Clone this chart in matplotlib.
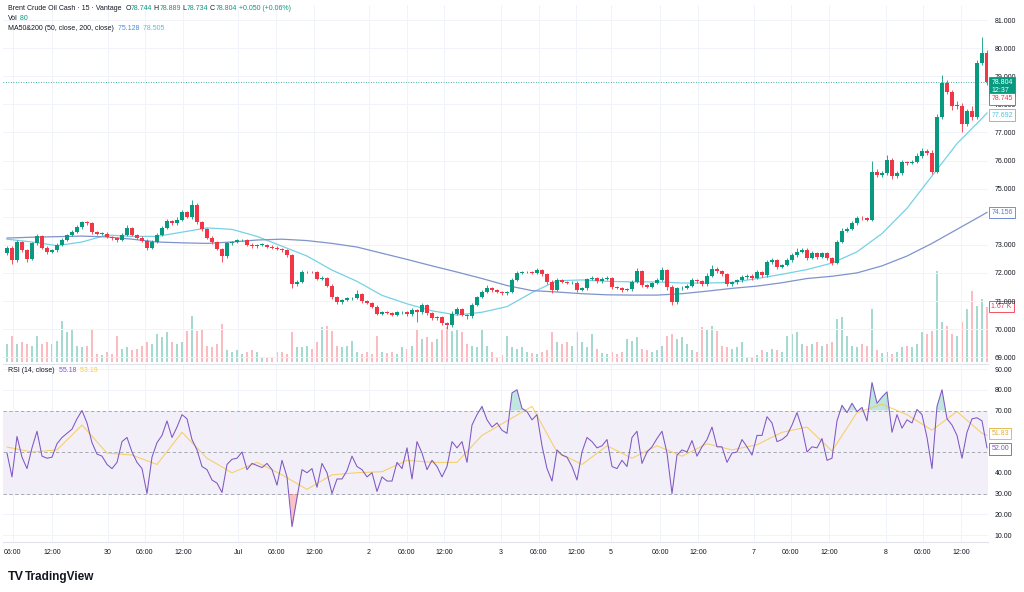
"""
Brent Crude Oil Cash, 15 min (Vantage): candles, MA50/MA200, volume and RSI panel
in a TradingView-like layout.
"""

import numpy as np
import matplotlib
matplotlib.use("Agg")
import matplotlib.pyplot as plt

plt.rcParams["font.family"] = ["Liberation Sans", "DejaVu Sans"]

COLORS = {
    "up": "#089981",
    "down": "#f23645",
    "text": "#131722",
    "grid": "#f0f3fa",
    "ma50": "#76d1e5",
    "ma200": "#7f93cc",
    "rsi": "#7e57c2",
    "rsi_ma": "#f5c84c",
    "band": "#787b86",
}

# ---- data (one entry per drawn bar) ----
FIRST_OPEN = 72.7
CLOSE = [
    # Jun 27 - Jun 30
    72.9, 72.45, 73.1, 72.8, 72.5, 73.05, 73.3, 72.9, 72.75, 72.8,
    73.0, 73.17, 73.35, 73.45, 73.63, 73.8, 73.77, 73.45, 73.4, 73.4,
    73.28, 73.23, 73.17, 73.35, 73.6, 73.35, 73.25, 73.15, 72.9, 73.1,
    73.35, 73.6, 73.85, 73.77, 73.9, 74.15, 74.0, 74.42, 73.8, 73.55,
    73.25, 73.1, 72.85, 72.6, 73.05, 73.1, 73.17, 73.17, 73.0,
    # Jul 1 - Jul 2
    72.95, 73.0, 73.0, 72.93, 72.9, 72.85, 72.8, 72.63, 71.6, 71.68,
    72.03, 72.03, 72.02, 71.8, 71.82, 71.55, 71.14, 70.96, 71.03, 71.1,
    71.1, 71.25, 71.0, 70.93, 70.8, 70.55, 70.6, 70.57, 70.5, 70.6,
    70.6, 70.52, 70.68, 70.6, 70.86, 70.57, 70.39, 70.43, 70.22, 70.14,
    70.55, 70.7, 70.5, 70.45, 70.86, 71.14, 71.32, 71.45, 71.39,
    # Jul 3 - Jul 6
    71.32, 71.28, 71.32, 71.75, 72.0, 72.03, 72.03, 72.0, 72.1, 71.95,
    71.68, 71.4, 71.75, 71.68, 71.64, 71.65, 71.4, 71.45, 71.78, 71.83,
    71.7, 71.8, 71.82, 71.5, 71.46, 71.39, 71.42, 71.68, 72.05, 71.57,
    71.5, 71.64, 71.75, 72.1, 71.5, 70.96, 71.45, 71.48, 71.55, 71.75,
    71.7, 71.6, 71.9, 72.15, 72.05, 71.95, 71.6, 71.66, 71.73, 71.85,
    # Jul 7 - Jul 8
    71.9, 71.82, 72.03, 71.92, 72.39, 72.46, 72.21, 72.28, 72.46, 72.63,
    72.75, 72.82, 72.53, 72.7, 72.57, 72.7, 72.53, 72.35, 73.1, 73.5,
    73.58, 73.78, 73.97, 73.95, 73.9, 75.6, 75.48, 75.55, 76.02, 75.45,
    75.55, 75.93, 75.91, 75.95, 76.15, 76.35, 76.28, 75.6, 77.55, 78.76,
    78.44, 77.95, 77.95, 77.3, 77.75, 77.55, 79.48, 79.83, 78.8,
]
# wick lengths above / below the body, in cents
WICK_UP = [
    6, 5, 8, 5, 4, 6, 8, 5, 4, 5, 5, 6, 5, 6, 8, 6, 5, 4, 5, 4,
    5, 4, 5, 8, 10, 5, 4, 5, 4, 6, 6, 8, 6, 5, 8, 10, 6, 18, 6, 5,
    4, 5, 4, 5, 6, 5, 5, 5, 4,
    5, 4, 5, 4, 5, 4, 5, 6, 5, 6, 8, 5, 5, 4, 6, 5, 4, 5, 5, 5,
    6, 14, 5, 4, 5, 5, 6, 4, 5, 5, 4, 5, 6, 5, 8, 5, 4, 5, 5, 5,
    10, 8, 5, 4, 6, 5, 8, 12, 5,
    5, 4, 5, 6, 8, 5, 5, 4, 6, 5, 4, 5, 6, 5, 4, 5, 5, 6, 5, 5,
    4, 5, 6, 5, 4, 5, 5, 6, 12, 5, 4, 5, 6, 10, 5, 6, 5, 4, 5, 6,
    5, 5, 8, 12, 5, 5, 4, 5, 5, 6,
    5, 5, 6, 5, 8, 6, 5, 5, 6, 8, 12, 6, 5, 8, 5, 6, 5, 5, 8, 10,
    6, 8, 6, 5, 5, 40, 10, 8, 18, 8, 6, 8, 5, 6, 10, 8, 6, 8, 10, 28,
    10, 8, 15, 8, 10, 20, 10, 55, 12,
]
WICK_DN = [
    5, 12, 6, 5, 10, 5, 5, 6, 8, 5, 5, 4, 5, 5, 4, 5, 5, 6, 5, 4,
    5, 5, 6, 4, 5, 5, 6, 5, 10, 5, 4, 5, 5, 6, 5, 5, 6, 8, 5, 6,
    5, 6, 5, 20, 6, 5, 4, 5, 6,
    5, 5, 4, 5, 4, 5, 6, 8, 15, 8, 5, 5, 4, 6, 5, 6, 8, 5, 5, 4,
    5, 4, 6, 5, 5, 6, 5, 4, 5, 5, 6, 5, 5, 35, 5, 6, 5, 5, 6, 14,
    5, 5, 5, 8, 4, 5, 5, 5, 6,
    5, 5, 6, 5, 5, 4, 5, 5, 5, 6, 8, 10, 5, 5, 4, 5, 8, 5, 5, 4,
    5, 5, 4, 6, 5, 6, 5, 5, 4, 8, 5, 5, 4, 5, 10, 12, 5, 5, 4, 5,
    5, 6, 5, 5, 5, 6, 8, 5, 4, 5,
    6, 8, 5, 6, 5, 6, 8, 5, 5, 6, 5, 5, 8, 5, 6, 5, 6, 8, 5, 5,
    5, 5, 6, 8, 6, 5, 8, 6, 5, 10, 6, 5, 6, 5, 5, 6, 8, 8, 5, 6,
    8, 15, 10, 30, 8, 12, 6, 8, 10,
]
VOLUME_K = [
    0.55, 0.8, 0.55, 0.6, 0.55, 0.5, 0.8, 0.55, 0.6, 0.55,
    0.65, 1.25, 0.9, 1.0, 0.5, 0.45, 0.5, 1.0, 0.25, 0.2,
    0.3, 0.25, 0.8, 0.4, 0.45, 0.35, 0.4, 0.5, 0.6, 0.55,
    0.85, 0.75, 0.9, 0.6, 0.55, 0.6, 0.95, 1.4, 0.95, 1.0,
    0.5, 0.45, 0.55, 1.15, 0.35, 0.3, 0.35, 0.25, 0.3,
    0.35, 0.3, 0.15, 0.12, 0.15, 0.3, 0.3, 0.25, 0.9, 0.45,
    0.45, 0.5, 0.4, 0.6, 1.05, 1.1, 0.95, 0.5, 0.45, 0.5,
    0.65, 0.3, 0.25, 0.3, 0.25, 0.8, 0.3, 0.28, 0.3, 0.25,
    0.45, 0.4, 0.5, 1.0, 0.7, 0.75, 0.6, 0.7, 1.0, 1.05,
    0.95, 1.0, 0.9, 0.55, 0.5, 0.45, 1.0, 0.5, 0.3,
    0.15, 0.2, 0.8, 0.45, 0.4, 0.45, 0.3, 0.28, 0.25, 0.3,
    0.35, 0.9, 0.6, 0.55, 0.6, 0.5, 0.9, 0.6, 0.45, 0.85,
    0.4, 0.28, 0.25, 0.3, 0.25, 0.3, 0.7, 0.65, 0.75, 0.4,
    0.35, 0.3, 0.35, 0.5, 0.8, 0.85, 0.7, 0.75, 0.55, 0.35,
    0.3, 1.05, 1.0, 1.1, 0.95, 0.5, 0.45, 0.4, 0.45, 0.6,
    0.15, 0.15, 0.2, 0.35, 0.3, 0.4, 0.35, 0.3, 0.8, 0.85,
    0.9, 0.55, 0.5, 0.55, 0.6, 0.5, 0.55, 0.6, 1.3, 1.35,
    0.8, 0.5, 0.45, 0.55, 0.5, 1.6, 0.35, 0.28, 0.3, 0.25,
    0.3, 0.45, 0.5, 0.45, 0.55, 0.9, 0.85, 0.95, 2.75, 1.2,
    1.1, 0.85, 0.8, 1.2, 1.6, 2.15, 1.7, 1.9, 1.67,
]
RSI = [
    49.5, 38, 57.5, 47.5, 42, 52, 60, 48, 47, 47.5,
    54, 57, 59, 61, 66, 70, 64, 54.5, 49, 48,
    44, 42, 45, 55, 57, 50, 45, 42, 30, 47.5,
    54.5, 58, 65, 57, 62, 68, 66, 56, 51, 43,
    41.5, 36.5, 35, 30.5, 44, 46.5, 47, 50, 41.5,
    44.5, 43.5, 42.5, 44.5, 41.5, 34, 46, 38, 14, 28,
    41.5, 40, 42, 33, 44.5, 40, 30, 37, 37, 41,
    48, 43, 41.5, 38, 40, 31, 38, 36, 36, 45,
    42, 52, 37, 55, 49.5, 41.5, 46, 43, 38, 43,
    55, 52, 55, 45, 63, 68, 72, 65.5, 62,
    64, 60.5, 59, 78.5, 80, 71, 69.5, 65.5, 68, 53,
    42, 36, 51, 48.5, 47.5, 43, 36.5, 50, 57, 55,
    52, 53, 56, 43, 42, 46, 43, 57, 60, 44.5,
    50, 52.5, 56.5, 60, 49.5, 30, 48.5, 51, 50, 55.5,
    48, 52.5, 56, 62, 52.5, 52.5, 45, 49.5, 50, 56,
    52.5, 48.5, 58, 58, 67, 64, 55, 56, 58, 63,
    69, 61.5, 50, 52.5, 52, 56.5, 46, 47, 65, 72.5,
    69, 73.5, 69.5, 71.5, 65, 83.5, 73.5, 76.5, 79, 59.5,
    68, 61.5, 65.5, 64, 70.5, 68, 57, 42, 72, 80,
    66, 63, 58, 47, 59.5, 66, 66.5, 65, 52,
]
# smooth lines, sampled every 5th bar plus the last bar
MA50 = [
    73.2, 73.1, 72.97, 73.1, 73.35, 73.3, 73.3, 73.45, 73.6, 73.55,
    73.3, 72.95, 72.6, 72.1, 71.7, 71.2, 70.9, 70.65, 70.5, 70.6,
    70.8, 71.3, 71.72, 71.75, 71.7, 71.68, 71.68, 71.64, 71.64, 71.66,
    71.8, 71.95, 72.12, 72.35, 72.75, 73.4, 74.3, 75.45, 76.6, 77.5, 77.692,
]
MA200 = [
    73.24, 73.27, 73.29, 73.31, 73.28, 73.2, 73.1, 73.07, 73.05, 73.1,
    73.17, 73.2, 73.15, 73.05, 72.92, 72.7, 72.48, 72.25, 72.03, 71.8,
    71.55, 71.37, 71.32, 71.26, 71.22, 71.21, 71.21, 71.26, 71.35, 71.45,
    71.53, 71.65, 71.8, 71.88, 72.0, 72.25, 72.6, 73.05, 73.55, 74.05, 74.156,
]
RSI_MA = [
    52.4, 50, 51, 63, 49.5, 48.5, 44, 59.5, 47, 40,
    45, 39, 32, 39, 40, 40.5, 46, 45, 45, 58,
    65, 72, 50, 44, 53, 47, 53, 48, 54, 51,
    53.5, 59.5, 62, 50.5, 69, 73, 68, 60.5, 69.5, 59, 58,
]
XTICK_LABELS = ["06:00", "12:00", "30", "06:00", "12:00", "Jul", "06:00", "12:00",
                "2", "06:00", "12:00", "3", "06:00", "12:00", "5", "06:00", "12:00",
                "7", "06:00", "12:00", "8", "06:00", "12:00"]
PRICE_TICKS = list(range(69, 82))
RSI_TICKS = list(range(10, 100, 10))

# ---- layout (pixels of the 1024x592 canvas) ----
W, H = 1024, 592
BAR0_PX, BAR_PX = 7, 5            # x pixel of bar 0, pixels per bar
XTICK_PX = [13, 52, 108, 145, 183, 238, 276, 314, 369, 407, 444, 501, 539,
            576, 611, 660, 698, 754, 791, 829, 886, 923, 961]
LINE_STEP = 5


def rect(left, top, right, bottom):
    return [left / W, 1 - bottom / H, (right - left) / W, (bottom - top) / H]


def px_to_bar(px):
    return (px - BAR0_PX) / BAR_PX


close = np.array(CLOSE)
opens = np.r_[FIRST_OPEN, close[:-1]]
high = np.maximum(opens, close) + np.array(WICK_UP) / 100
low = np.minimum(opens, close) - np.array(WICK_DN) / 100
x = np.arange(len(close))
is_up = close >= opens
candle_colors = np.where(is_up, COLORS["up"], COLORS["down"])
line_x = np.r_[np.arange(0, len(close) - 1, LINE_STEP), len(close) - 1]
rsi = np.array(RSI)
xticks = [px_to_bar(p) for p in XTICK_PX]
xlim = (px_to_bar(3), px_to_bar(988))

fig = plt.figure(figsize=(W / 100, H / 100), dpi=100)
fig.patch.set_facecolor("white")

ax_vol = fig.add_axes(rect(3, 5, 988, 362))
ax = fig.add_axes(rect(3, 5, 988, 362), sharex=ax_vol)
ax_rsi = fig.add_axes(rect(3, 364, 988, 542), sharex=ax_vol)

# volume (drawn underneath the price panel)
vol_colors = [(0.03, 0.6, 0.51, 0.36) if u else (0.95, 0.21, 0.27, 0.33) for u in is_up]
ax_vol.bar(x, VOLUME_K, width=0.55, color=vol_colors, linewidth=0)
ax_vol.set_ylim(0, 357 / 33)
ax_vol.set_xlim(*xlim)
ax_vol.axis("off")

# price panel
ax.set_facecolor("none")
ax.set_ylim(81 - 342 / 28.1, 81 + 15 / 28.1)
ax.set_xticks(xticks)
ax.set_yticks(PRICE_TICKS)
ax.grid(True, color=COLORS["grid"], linewidth=0.7, zorder=0)
ax.vlines(x, low, high, colors=candle_colors, linewidth=0.6, zorder=3)
body = np.maximum(np.abs(close - opens), 0.012)
ax.bar(x, body, bottom=np.minimum(opens, close), width=0.7, color=candle_colors,
       linewidth=0, zorder=4)
ax.plot(line_x, MA50, color=COLORS["ma50"], linewidth=0.9, zorder=2)
ax.plot(line_x, MA200, color=COLORS["ma200"], linewidth=0.9, zorder=2)
ax.axhline(CLOSE[-1], color=COLORS["up"], linestyle=(0, (1, 2)), linewidth=0.6, zorder=2)

ax.yaxis.tick_right()
ax.yaxis.set_major_formatter(matplotlib.ticker.FormatStrFormatter("%.3f"))
ax.tick_params(axis="y", length=0, labelsize=5, pad=5, colors=COLORS["text"])
ax.tick_params(axis="x", length=0, labelbottom=False)
for s in ax.spines.values():
    s.set_visible(False)

# RSI panel
ax_rsi.set_ylim(90 - (542 - 369) / 2.075, 90 + (369 - 364) / 2.075)
ax_rsi.set_xlim(*xlim)
ax_rsi.set_xticks(xticks)
ax_rsi.set_xticklabels(XTICK_LABELS)
ax_rsi.set_yticks(RSI_TICKS)
ax_rsi.grid(True, color=COLORS["grid"], linewidth=0.7, zorder=0)
ax_rsi.axhspan(30, 70, color=COLORS["rsi"], alpha=0.09, linewidth=0, zorder=1)
for lvl in (70, 50, 30):
    ax_rsi.axhline(lvl, color=COLORS["band"], linestyle=(0, (4, 3)), linewidth=0.6,
                   alpha=0.7, zorder=2)
ax_rsi.fill_between(x, rsi, 70, where=rsi > 70, interpolate=True,
                    color=COLORS["up"], alpha=0.25, linewidth=0, zorder=2)
ax_rsi.fill_between(x, rsi, 30, where=rsi < 30, interpolate=True,
                    color=COLORS["down"], alpha=0.3, linewidth=0, zorder=2)
ax_rsi.plot(line_x, RSI_MA, color=COLORS["rsi_ma"], linewidth=0.8, alpha=0.8, zorder=3)
ax_rsi.plot(x, rsi, color=COLORS["rsi"], linewidth=0.75, zorder=4)

ax_rsi.yaxis.tick_right()
ax_rsi.yaxis.set_major_formatter(matplotlib.ticker.FormatStrFormatter("%.2f"))
ax_rsi.tick_params(axis="y", length=0, labelsize=5, pad=5, colors=COLORS["text"])
ax_rsi.tick_params(axis="x", length=0, labelsize=5, pad=5, colors=COLORS["text"])
for name, s in ax_rsi.spines.items():
    if name in ("top", "bottom"):
        s.set_color("#e0e3eb")
        s.set_linewidth(0.8)
    else:
        s.set_visible(False)


# value boxes on the right scale
def scale_box(axis, value, text, edge, face="white", fg=None, dy=0.0):
    axis.annotate(text, xy=(1.0, value), xycoords=("axes fraction", "data"),
                  xytext=(2.5, dy), textcoords="offset points", ha="left", va="center",
                  fontsize=5, color=fg or edge, annotation_clip=False, zorder=10,
                  bbox=dict(boxstyle="square,pad=0.3", facecolor=face, edgecolor=edge,
                            linewidth=0.6))


scale_box(ax, CLOSE[-1], "78.804\n12:37", COLORS["up"], face=COLORS["up"], fg="white", dy=-3.6)
scale_box(ax, 78.745, "78.745", COLORS["down"], dy=-11.2)
scale_box(ax, MA50[-1], "77.692", "#4fc3e0", dy=-1.5)
scale_box(ax, MA200[-1], "74.156", "#5b7fd1")
scale_box(ax_vol, VOLUME_K[-1], "1.67 K", COLORS["down"])
scale_box(ax_rsi, 51.83, "51.83", "#e0b03a", dy=10.4)
scale_box(ax_rsi, 52.0, "52.00", COLORS["rsi"], dy=-0.8)

# legend lines in the panel corners
renderer = fig.canvas.get_renderer()


def text_run(x_px, y_px, parts, size=5):
    for s, c in parts:
        t = fig.text(x_px / W, 1 - y_px / H, s, color=c, fontsize=size, ha="left", va="center")
        x_px += t.get_window_extent(renderer=renderer).width


g, k = COLORS["up"], COLORS["text"]
text_run(8, 9, [("Brent Crude Oil Cash \u00b7 15 \u00b7 Vantage", k), ("  O", k), ("78.744", g),
                (" H", k), ("78.889", g), (" L", k), ("78.734", g), (" C", k), ("78.804", g),
                (" +0.050 (+0.06%)", g)])
text_run(8, 19, [("Vol", k), (" 80", g)])
text_run(8, 28, [("MA50&200 (50, close, 200, close)", k), ("  75.128", "#4a8fd6"),
                 ("  78.505", "#49c3e3")])
text_run(8, 371, [("RSI (14, close)", k), ("  55.18", COLORS["rsi"]),
                  ("  53.19", COLORS["rsi_ma"])])

fig.text(8 / W, 1 - 577 / H, "TV", fontsize=9, fontweight="bold", color=k, va="center")
fig.text(25 / W, 1 - 577 / H, "TradingView", fontsize=8.5, fontweight="bold", color=k,
         va="center")

plt.savefig("out.png", dpi=100, facecolor="white")
plt.close()
